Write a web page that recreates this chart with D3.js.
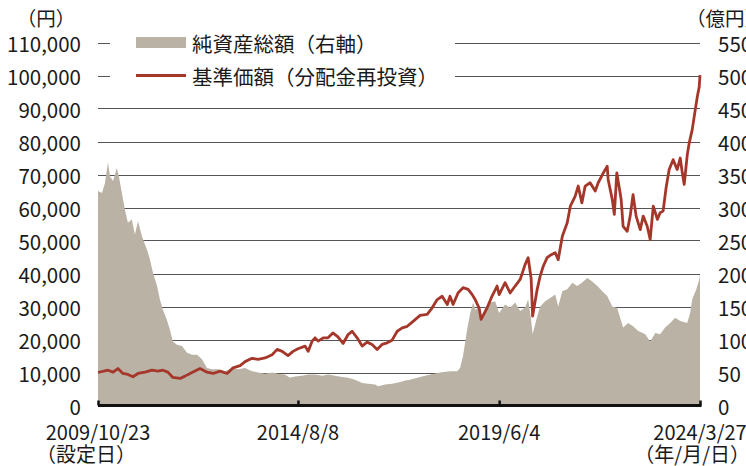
<!DOCTYPE html>
<html>
<head>
<meta charset="utf-8">
<script src="https://cdn.jsdelivr.net/npm/d3@7/dist/d3.min.js"></script>
<style>
  html, body { margin: 0; padding: 0; background: #fff; }
  svg text { font-family: "Noto Sans CJK JP", "Noto Sans", sans-serif; fill: #1a1a1a; }
</style>
</head>
<body>
<svg id="chart" width="746" height="466"></svg>
<script>
// 基準価額（分配金再投資）, 円
const navDates = [
  "2009-10-23","2010-01-18","2010-03-04","2010-04-15","2010-05-29","2010-07-12","2010-08-25","2010-10-08",
  "2010-12-09","2011-02-08","2011-03-31","2011-05-14","2011-06-27","2011-08-09","2011-10-11","2011-11-24",
  "2012-01-24","2012-04-03","2012-06-03","2012-07-26","2012-09-26","2012-11-26","2013-01-17","2013-03-20",
  "2013-05-02","2013-07-02","2013-08-24","2013-10-24","2013-12-25","2014-02-07","2014-03-23","2014-05-13",
  "2014-06-26","2014-08-08","2014-10-10","2014-11-05","2014-12-10","2015-01-05","2015-02-01","2015-03-17",
  "2015-04-28","2015-06-10","2015-07-24","2015-09-07","2015-10-21","2015-11-25","2016-01-08","2016-02-21",
  "2016-04-04","2016-05-18","2016-07-01","2016-08-13","2016-09-27","2016-11-09","2016-12-24","2017-02-06",
  "2017-03-22","2017-05-12","2017-07-12","2017-09-12","2017-10-26","2017-12-09","2018-01-21","2018-03-07",
  "2018-03-31","2018-04-27","2018-06-09","2018-07-23","2018-09-06","2018-10-11","2018-11-06","2018-12-10",
  "2018-12-28","2019-02-19","2019-04-02","2019-05-17","2019-06-04","2019-07-26","2019-09-08","2019-10-22",
  "2019-12-05","2020-01-17","2020-02-13","2020-03-10","2020-03-23","2020-05-02","2020-05-28","2020-06-24",
  "2020-07-28","2020-08-24","2020-10-07","2020-11-02","2020-12-08","2021-01-20","2021-02-16","2021-03-30",
  "2021-04-26","2021-05-28","2021-06-26","2021-08-08","2021-09-22","2021-10-18","2021-12-02","2022-01-05",
  "2022-01-13","2022-02-18","2022-03-08","2022-03-30","2022-05-07","2022-05-24","2022-06-29","2022-07-25",
  "2022-08-19","2022-09-15","2022-10-21","2022-11-16","2022-12-21","2023-01-16","2023-02-12","2023-03-20",
  "2023-04-13","2023-05-09","2023-06-04","2023-07-01","2023-08-05","2023-09-09","2023-10-06","2023-10-24",
  "2023-11-10","2023-12-07","2023-12-24","2024-01-19","2024-02-06","2024-03-04","2024-03-20","2024-03-27"
];
const navValues = [
  10000,10700,10100,11200,9700,9400,8700,9700,
  10100,10700,10400,10700,10100,8500,8200,8900,
  10000,11200,10100,9700,10400,9700,11400,12100,
  13300,14300,14000,14400,15400,17000,16400,15100,
  16400,17200,18000,16400,19500,20500,19500,20500,
  20500,22000,20800,18800,21500,22500,20500,18000,
  19200,18500,17000,18500,19000,19800,22500,23500,
  24000,25500,27300,27600,29600,32100,33100,30600,
  33100,30600,34100,35700,35200,33600,32100,29600,
  26100,29600,33100,36200,33600,37200,34100,36200,
  38200,42700,44800,38500,27100,35200,39200,42200,
  44800,45500,46300,44200,51300,55400,60400,63400,
  66500,61400,66500,67500,65000,67500,70500,72500,
  68500,62400,57900,70500,62400,54300,52800,57400,
  63900,57400,53300,57400,54300,50300,60400,56400,
  58400,58900,65900,71500,74500,71500,75000,70500,
  67000,76100,79600,83600,87700,93700,96500,100100
];

// 純資産総額（右軸）, 億円
const assetDates = [
  "2009-10-23","2009-11-27","2009-12-23","2010-01-18","2010-02-05","2010-03-04","2010-04-06","2010-04-24",
  "2010-05-20","2010-06-15","2010-07-12","2010-08-15","2010-09-11","2010-10-08","2010-11-12","2010-12-26",
  "2011-01-21","2011-02-16","2011-03-24","2011-04-17","2011-05-14","2011-06-17","2011-07-14","2011-08-09",
  "2011-09-14","2011-10-28","2011-12-11","2012-01-24","2012-03-08","2012-04-20","2012-06-03","2012-07-17",
  "2012-09-08","2012-11-08","2013-01-08","2013-03-03","2013-05-02","2013-07-02","2013-08-24","2013-10-24",
  "2013-12-25","2014-02-15","2014-04-16","2014-05-30","2014-07-13","2014-09-13","2014-11-05","2015-01-05",
  "2015-03-08","2015-04-28","2015-06-28","2015-08-29","2015-10-21","2015-12-21","2016-02-21","2016-04-12",
  "2016-06-13","2016-07-10","2016-09-09","2016-11-09","2017-01-01","2017-03-05","2017-04-15","2017-07-12",
  "2017-10-08","2018-01-04","2018-03-31","2018-06-01","2018-06-27","2018-07-23","2018-08-28","2018-09-24",
  "2018-10-20","2018-11-06","2018-12-03","2018-12-28","2019-02-02","2019-03-18","2019-04-30","2019-06-04",
  "2019-07-26","2019-09-08","2019-10-22","2019-12-05","2020-01-17","2020-02-13","2020-03-10","2020-03-23",
  "2020-05-02","2020-05-28","2020-07-11","2020-08-24","2020-10-07","2020-11-02","2020-12-08","2021-01-20",
  "2021-03-06","2021-04-16","2021-05-28","2021-07-14","2021-08-27","2021-10-10","2021-11-23","2022-01-05",
  "2022-02-18","2022-04-01","2022-04-28","2022-05-24","2022-07-07","2022-08-19","2022-10-04","2022-12-04",
  "2023-01-16","2023-03-02","2023-04-13","2023-05-27","2023-07-10","2023-08-23","2023-10-06","2023-12-06",
  "2024-01-01","2024-01-19","2024-02-24","2024-03-20","2024-03-27"
];
const assetValues = [
  325,322,337,368,347,340,360,347,
  322,297,277,282,259,279,256,236,
  221,201,181,161,145,130,115,97,
  92,90,80,77,77,70,57,55,
  55,52,57,55,57,52,50,48,
  50,48,47,42,44,45,47,47,
  45,47,45,43,42,39,34,33,
  32,29,32,33,35,38,39,43,
  47,50,52,52,57,75,115,140,
  156,145,148,130,148,156,158,140,
  153,148,156,143,148,161,130,108,
  135,150,158,163,168,150,173,176,
  186,181,186,193,188,181,173,166,
  150,148,133,118,125,120,113,108,
  97,110,108,118,125,133,128,125,
  140,161,176,191,198
];

const leftTicks = [0, 10000, 20000, 30000, 40000, 50000, 60000, 70000, 80000, 90000, 100000, 110000];
const rightTicks = [0, 50, 100, 150, 200, 250, 300, 350, 400, 450, 500, 550];
const xTickDates = ["2009-10-23", "2014-08-08", "2019-06-04", "2024-03-27"];
const xTickLabels = ["2009/10/23", "2014/8/8", "2019/6/4", "2024/3/27"];
const legendLabels = ["純資産総額（右軸）", "基準価額（分配金再投資）"];

const parse = d3.timeParse("%Y-%m-%d");
const nav = navDates.map((d, i) => ({date: parse(d), value: navValues[i]}));
const assets = assetDates.map((d, i) => ({date: parse(d), value: assetValues[i]}));

const plot = {left: 98, right: 700, top: 42.5, bottom: 405.5};
const areaColor = "#b9b2a5";
const lineColor = "#a5372a";

const svg = d3.select("#chart");

const x = d3.scaleTime()
  .domain([parse(xTickDates[0]), parse(xTickDates[xTickDates.length - 1])])
  .range([plot.left, plot.right]);
const yLeft = d3.scaleLinear().domain([0, 110000]).range([plot.bottom, plot.top]);
const yRight = d3.scaleLinear().domain([0, 550]).range([plot.bottom, plot.top]);

// gridlines
svg.append("g")
  .selectAll("line")
  .data(leftTicks.filter(d => d > 0))
  .join("line")
  .attr("x1", plot.left)
  .attr("x2", plot.right)
  .attr("y1", d => Math.round(yLeft(d)) + 0.5)
  .attr("y2", d => Math.round(yLeft(d)) + 0.5)
  .attr("stroke", "#555")
  .attr("stroke-width", 1.1);

// net assets area
const area = d3.area()
  .x(d => x(d.date))
  .y0(yRight(0))
  .y1(d => yRight(d.value));
svg.append("path")
  .datum(assets)
  .attr("d", area)
  .attr("fill", areaColor);

// legend (white box covers the top gridlines)
const legend = svg.append("g");
legend.append("rect")
  .attr("x", 110).attr("y", 27)
  .attr("width", 345).attr("height", 64)
  .attr("fill", "#fff");
legend.append("rect")
  .attr("x", 136).attr("y", yLeft(110000) - 5.5)
  .attr("width", 50).attr("height", 11)
  .attr("fill", areaColor);
legend.append("line")
  .attr("x1", 136).attr("x2", 186)
  .attr("y1", yLeft(100000)).attr("y2", yLeft(100000))
  .attr("stroke", lineColor)
  .attr("stroke-width", 3);
legend.selectAll("text")
  .data(legendLabels)
  .join("text")
  .attr("x", 192)
  .attr("y", (d, i) => yLeft(110000 - i * 10000))
  .attr("dominant-baseline", "central")
  .attr("font-size", 20.5)
  .text(d => d);

// NAV line
const line = d3.line()
  .x(d => x(d.date))
  .y(d => yLeft(d.value));
svg.append("path")
  .datum(nav)
  .attr("d", line)
  .attr("fill", "none")
  .attr("stroke", lineColor)
  .attr("stroke-width", 2.8)
  .attr("stroke-linejoin", "round");

// bottom axis, ticks point up into the plot
const xAxis = svg.append("g")
  .attr("transform", `translate(0,${plot.bottom})`)
  .call(d3.axisBottom(x)
    .tickValues(xTickDates.map(parse))
    .tickSize(-5)
    .tickSizeOuter(0)
    .tickFormat(""));
xAxis.select(".domain")
  .attr("stroke", "#111")
  .attr("stroke-width", 3)
  .attr("d", `M${plot.left},0H${plot.right + 1.5}`);
xAxis.selectAll(".tick line")
  .attr("stroke", "#111")
  .attr("stroke-width", 2.5);

svg.append("g")
  .selectAll("text")
  .data(xTickLabels)
  .join("text")
  .attr("x", (d, i) => x(parse(xTickDates[i])))
  .attr("y", 440)
  .attr("text-anchor", "middle")
  .attr("font-size", 20)
  .text(d => d);

svg.append("text")
  .attr("x", 36).attr("y", 462)
  .attr("font-size", 20)
  .text("（設定日）");
svg.append("text")
  .attr("x", 750).attr("y", 462)
  .attr("text-anchor", "end")
  .attr("font-size", 20)
  .text("（年/月/日）");

// left axis labels
const leftAxis = svg.append("g")
  .attr("transform", `translate(${plot.left - 17},0)`)
  .call(d3.axisLeft(yLeft)
    .tickValues(leftTicks)
    .tickSize(0)
    .tickPadding(0)
    .tickFormat(d3.format(",")));
leftAxis.select(".domain").remove();
leftAxis.selectAll("text")
  .attr("font-size", 20.5)
  .attr("fill", "#1a1a1a")
  .attr("font-family", "'Noto Sans CJK JP', sans-serif")
  .attr("dy", null)
  .attr("dominant-baseline", "central");

// right axis labels
const rightAxis = svg.append("g")
  .attr("transform", `translate(${plot.right + 18},0)`)
  .call(d3.axisRight(yRight)
    .tickValues(rightTicks)
    .tickSize(0)
    .tickPadding(0));
rightAxis.select(".domain").remove();
rightAxis.selectAll("text")
  .attr("font-size", 20.5)
  .attr("fill", "#1a1a1a")
  .attr("font-family", "'Noto Sans CJK JP', sans-serif")
  .attr("dy", null)
  .attr("dominant-baseline", "central");

// unit labels
svg.append("text")
  .attr("x", 46).attr("y", 26)
  .attr("text-anchor", "middle")
  .attr("font-size", 19.5)
  .text("（円）");
svg.append("text")
  .attr("x", 686).attr("y", 26)
  .attr("font-size", 19.5)
  .text("（億円）");
</script>
</body>
</html>
